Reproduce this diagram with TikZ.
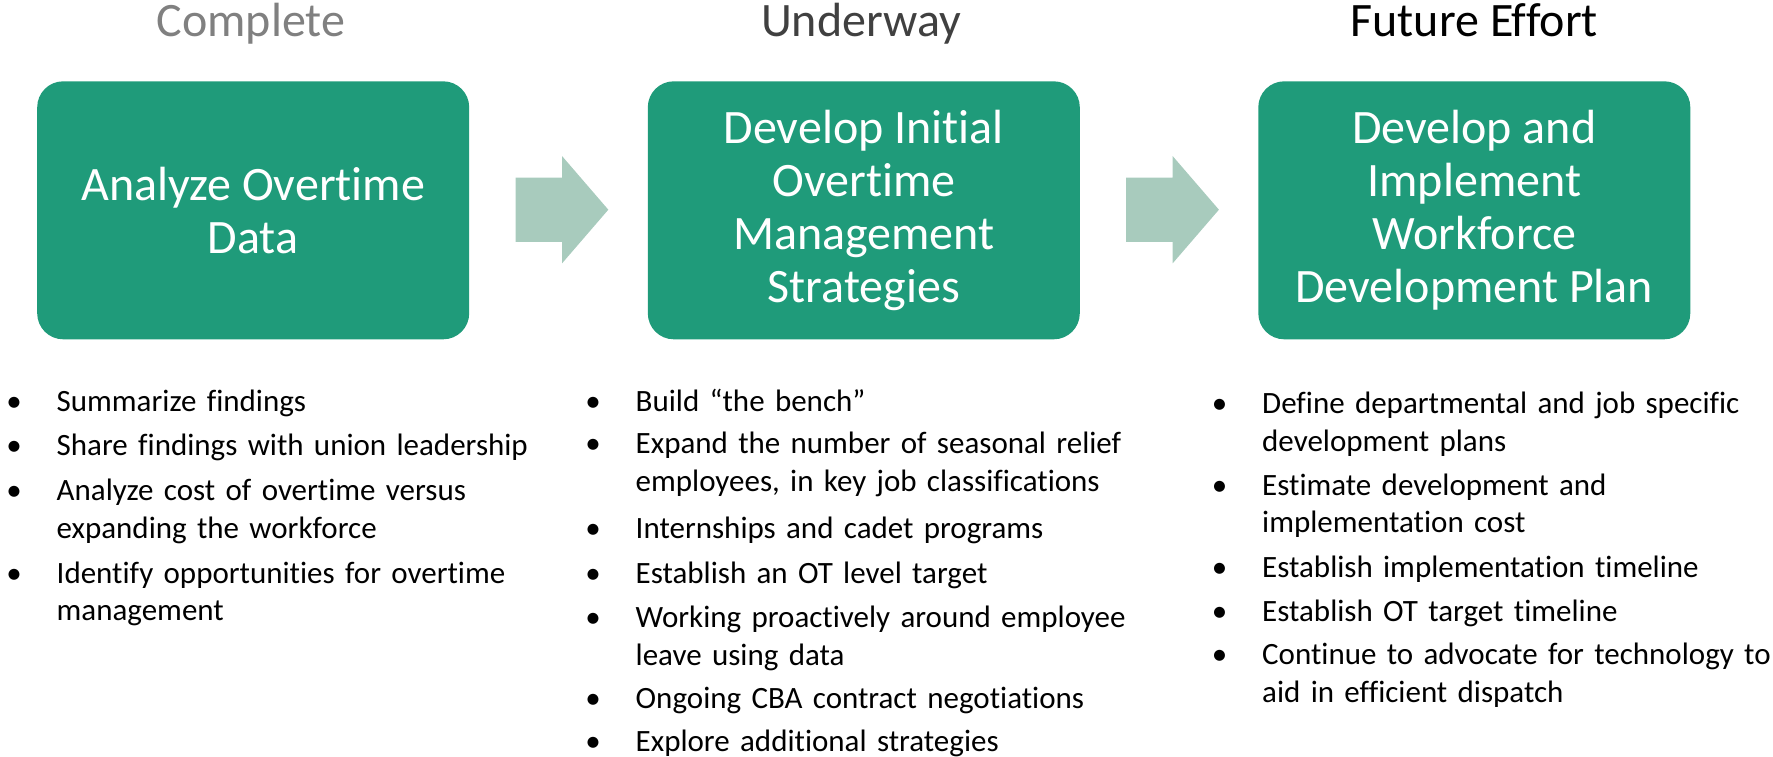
\documentclass[tikz,border=0pt]{standalone}
\usepackage{fontspec}
\setmainfont{Carlito}[Ligatures=NoCommon]
\definecolor{boxgreen}{RGB}{31,155,122}
\definecolor{arrowgreen}{RGB}{168,203,189}
\definecolor{donegray}{RGB}{128,128,128}
\definecolor{waygray}{RGB}{64,64,64}
\newcommand{\bl}{\leavevmode\llap{\textbullet\hspace{35pt}}}

\begin{document}
\begin{tikzpicture}[x=1pt,y=-1pt,
  stage/.style={rectangle, rounded corners=26pt, fill=boxgreen, text=white, minimum width=432pt, minimum height=258pt, align=center, font=\fontsize{48}{53}\selectfont},
  phase/.style={anchor=base, inner sep=0pt, font=\fontsize{48}{58}\selectfont},
  task/.style={anchor=base west, inner sep=0pt, align=left, text width=540pt, font=\fontsize{31}{37.5}\selectfont}]

\useasboundingbox (0,0) rectangle (1773,756);

% headings
\node[phase, text=donegray] (t1) at (251,36) {Complete};
\node[phase, text=waygray] (t2) at (861,36) {Underway};
\node[phase, text=black] (t3) at (1474.3,36) {Future Effort};

% stages
\node[stage] (b1) at (253.2,210.3) {Analyze Overtime\\Data};
\node[stage] (b2) at (863.8,210.3) {Develop Initial\\Overtime\\Management\\Strategies};
\node[stage] (b3) at (1474.3,210.3) {Develop and\\Implement\\Workforce\\Development Plan};

% block arrows
\foreach \ax in {562,1172.6}
  \fill[arrowgreen] (\ax,209.7) ++(-46.4,-32.2) -- ++(46.4,0) -- ++(0,-21.5) -- ++(46.3,53.7) -- ++(-46.3,53.7) -- ++(0,-21.5) -- ++(-46.4,0) -- cycle;

% complete
\node[task] (c1a) at (56.5,411.5) {\bl Summarize findings};
\node[task] (c1b) at (56.5,455.5) {\bl Share findings with union leadership};
\node[task] (c1c) at (56.5,500.5) {\bl Analyze cost of overtime versus\\expanding the workforce};
\node[task] (c1d) at (56.5,583) {\bl Identify opportunities for overtime\\management};

% underway
\node[task] (c2a) at (635.5,411.5) {\bl Build “the bench”};
\node[task] (c2b) at (635.5,453.5) {\bl Expand the number of seasonal relief\\employees, in key job classifications};
\node[task] (c2c) at (635.5,538) {\bl Internships and cadet programs};
\node[task] (c2d) at (635.5,583) {\bl Establish an OT level target};
\node[task] (c2e) at (635.5,627.5) {\bl Working proactively around employee\\leave using data};
\node[task] (c2f) at (635.5,708.5) {\bl Ongoing CBA contract negotiations};
\node[task] (c2g) at (635.5,751.5) {\bl Explore additional strategies};

% future effort
\node[task] (c3a) at (1262,413.5) {\bl Define departmental and job specific\\development plans};
\node[task] (c3b) at (1262,495) {\bl Estimate development and\\implementation cost};
\node[task] (c3c) at (1262,577.5) {\bl Establish implementation timeline};
\node[task] (c3d) at (1262,621.5) {\bl Establish OT target timeline};
\node[task] (c3e) at (1262,664.5) {\bl Continue to advocate for technology to\\aid in efficient dispatch};

\end{tikzpicture}
\end{document}
